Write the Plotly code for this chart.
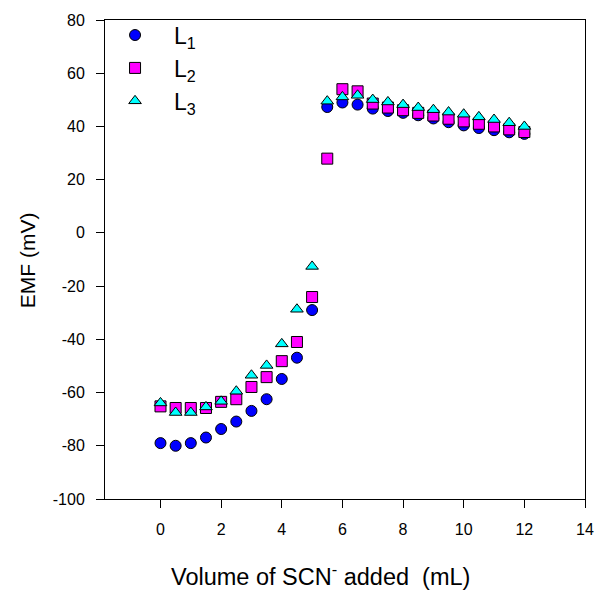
import plotly.graph_objects as go

# SCN- volume added (mL)
volume = [0, 0.5, 1, 1.5, 2, 2.5, 3, 3.5, 4, 4.5, 5, 5.5, 6, 6.5, 7, 7.5,
          8, 8.5, 9, 9.5, 10, 10.5, 11, 11.5, 12]

# EMF readings (mV)
emf_l1 = [-79.0, -80.0, -79.0, -76.9, -73.7, -70.9, -66.9, -62.5, -54.9, -46.9,
          -29.0, 47.3, 49.0, 48.2, 46.7, 45.8, 45.1, 44.2, 43.0, 41.6,
          40.4, 39.4, 38.6, 37.8, 37.2]
emf_l2 = [-65.2, -65.8, -65.8, -65.8, -63.5, -62.5, -57.9, -54.2, -48.2, -41.0,
          -24.1, 27.9, 54.0, 53.2, 48.6, 47.1, 46.1, 45.1, 44.1, 42.9,
          41.9, 41.0, 40.0, 38.9, 37.9]
emf_l3 = [-63.9, -67.5, -67.5, -65.4, -63.3, -59.5, -53.5, -49.8, -41.7, -28.7,
          -12.6, 49.5, 51.1, 51.7, 50.1, 49.2, 48.2, 47.1, 46.3, 45.4,
          44.6, 43.6, 42.6, 41.4, 40.0]

x_ticks = list(range(0, 15, 2))
y_ticks = list(range(-100, 81, 20))

series = [
    ("L<sub>1</sub>", emf_l1, "circle", "#0000ff"),
    ("L<sub>2</sub>", emf_l2, "square", "#ff00ff"),
    ("L<sub>3</sub>", emf_l3, "triangle-up", "#00ffff"),
]

fig = go.Figure()
for name, vals, sym, col in series:
    fig.add_trace(go.Scatter(
        x=volume, y=vals, mode="markers", name=name,
        marker=dict(symbol=sym, size=11, color=col,
                    line=dict(color="black", width=1)),
    ))

axis_common = dict(
    showline=True, linecolor="black", linewidth=1, mirror=True,
    ticks="outside", ticklen=8, tickcolor="black", showgrid=False,
    zeroline=False, tickfont=dict(size=16, color="black"),
    ticklabelstandoff=8,
)

fig.update_xaxes(range=[-1.83, 14], tickvals=x_ticks,
                 ticktext=[str(v) for v in x_ticks], **axis_common)
fig.update_yaxes(range=[-100, 80], tickvals=y_ticks,
                 ticktext=[str(v) for v in y_ticks], **axis_common)

# axis titles as annotations so they sit exactly where the original has them
fig.add_annotation(text="Volume of SCN<sup>-</sup> added  (mL)",
                   xref="paper", yref="paper", x=0.448, y=-0.158,
                   xanchor="center", yanchor="middle", showarrow=False,
                   font=dict(size=23.5, color="black"))
fig.add_annotation(text="EMF (mV)", textangle=-90,
                   xref="paper", yref="paper", x=-0.16, y=0.499,
                   xanchor="center", yanchor="middle", showarrow=False,
                   font=dict(size=21, color="black"))

fig.update_layout(
    width=598, height=590,
    margin=dict(l=105, r=13, t=20, b=91, autoexpand=False),
    plot_bgcolor="white", paper_bgcolor="white",
    font=dict(family="Liberation Sans, Arial, sans-serif", color="black"),
    showlegend=True,
    legend=dict(xref="container", yref="container", x=0.1606, y=0.977,
                xanchor="left", yanchor="top",
                bgcolor="rgba(0,0,0,0)", font=dict(size=23),
                tracegroupgap=0, itemwidth=68),
)

# drop the default page margin so the figure sits at the window's corner
fig.write_html(
    "out.html",
    config={"displayModeBar": False},
    post_script="document.body.style.margin='0';"
                "document.body.style.overflow='hidden';",
)
